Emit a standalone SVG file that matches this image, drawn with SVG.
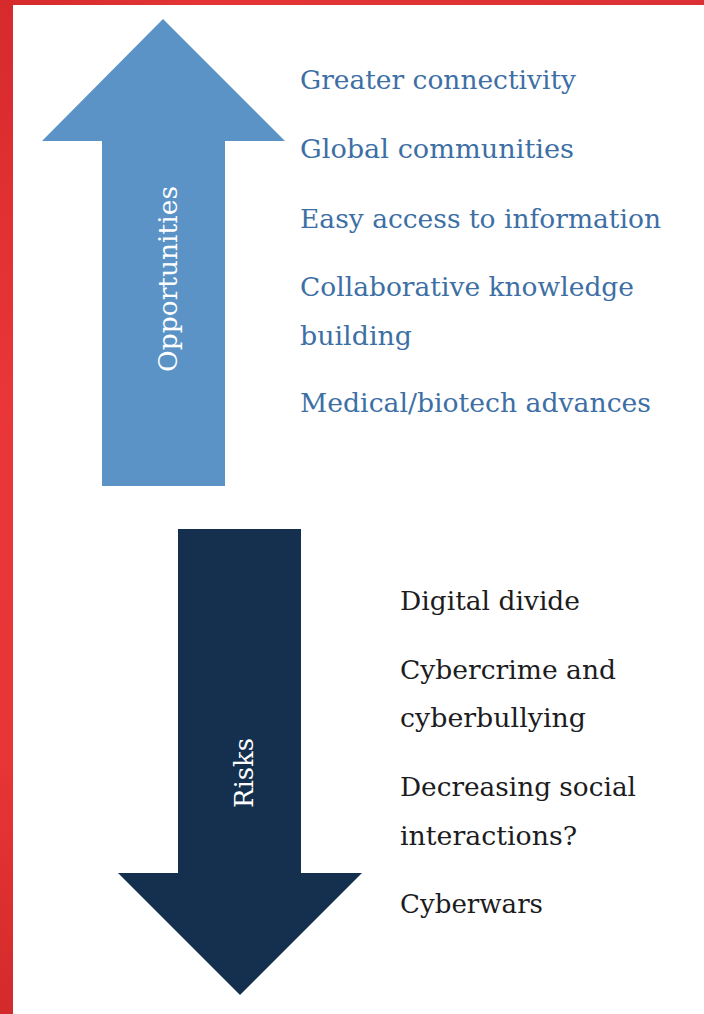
<svg xmlns="http://www.w3.org/2000/svg" width="704" height="1014" viewBox="0 0 704 1014">
  <defs>
    <linearGradient id="frameSide" x1="0" y1="0" x2="0" y2="1">
      <stop offset="0" stop-color="#d62a2c"/>
      <stop offset="0.4" stop-color="#ea3638"/>
      <stop offset="0.75" stop-color="#e83536"/>
      <stop offset="1" stop-color="#d32a2b"/>
    </linearGradient>
    <linearGradient id="frameTop" x1="0" y1="0" x2="1" y2="0">
      <stop offset="0" stop-color="#d62a2c"/>
      <stop offset="0.3" stop-color="#e43436"/>
      <stop offset="1" stop-color="#dc3034"/>
    </linearGradient>
    <style>
      .item { font-family: "DejaVu Serif", "Liberation Serif", serif; font-size: 26px; }
      .opp { fill: #3d6fa5; }
      .risk { fill: #1c1c1e; }
      .label { font-family: "DejaVu Serif", "Liberation Serif", serif; font-size: 26px; fill: #ffffff; }
    </style>
  </defs>

  <rect width="704" height="1014" fill="#ffffff"/>

  <!-- red frame -->
  <rect x="0" y="0" width="704" height="5" fill="url(#frameTop)"/>
  <rect x="0" y="0" width="13" height="1014" fill="url(#frameSide)"/>

  <!-- upward arrow -->
  <g id="opportunities">
    <polygon points="163,19 285,141 225,141 225,486 102,486 102,141 42,141" fill="#5b93c6"/>
    <text class="label" transform="translate(177,279) rotate(-90)" text-anchor="middle" textLength="186" lengthAdjust="spacingAndGlyphs">Opportunities</text>
  </g>

  <!-- downward arrow -->
  <g id="risks">
    <polygon points="178,529 301,529 301,873 362,873 240,995 118,873 178,873" fill="#15304e"/>
    <text class="label" transform="translate(253,773) rotate(-90)" text-anchor="middle" textLength="70" lengthAdjust="spacingAndGlyphs">Risks</text>
  </g>

  <!-- opportunities list -->
  <g id="opportunity-items" class="item opp">
    <text x="300" y="89" textLength="276" lengthAdjust="spacingAndGlyphs">Greater connectivity</text>
    <text x="300" y="158" textLength="274" lengthAdjust="spacingAndGlyphs">Global communities</text>
    <text x="300" y="228" textLength="361" lengthAdjust="spacingAndGlyphs">Easy access to information</text>
    <text x="300" y="296" textLength="334" lengthAdjust="spacingAndGlyphs">Collaborative knowledge</text>
    <text x="300" y="345" textLength="112" lengthAdjust="spacingAndGlyphs">building</text>
    <text x="300" y="412" textLength="351" lengthAdjust="spacingAndGlyphs">Medical/biotech advances</text>
  </g>

  <!-- risks list -->
  <g id="risk-items" class="item risk">
    <text x="400" y="610" textLength="180" lengthAdjust="spacingAndGlyphs">Digital divide</text>
    <text x="400" y="679" textLength="216" lengthAdjust="spacingAndGlyphs">Cybercrime and</text>
    <text x="400" y="727" textLength="186" lengthAdjust="spacingAndGlyphs">cyberbullying</text>
    <text x="400" y="796" textLength="236" lengthAdjust="spacingAndGlyphs">Decreasing social</text>
    <text x="400" y="845" textLength="177" lengthAdjust="spacingAndGlyphs">interactions?</text>
    <text x="400" y="913" textLength="143" lengthAdjust="spacingAndGlyphs">Cyberwars</text>
  </g>
</svg>
